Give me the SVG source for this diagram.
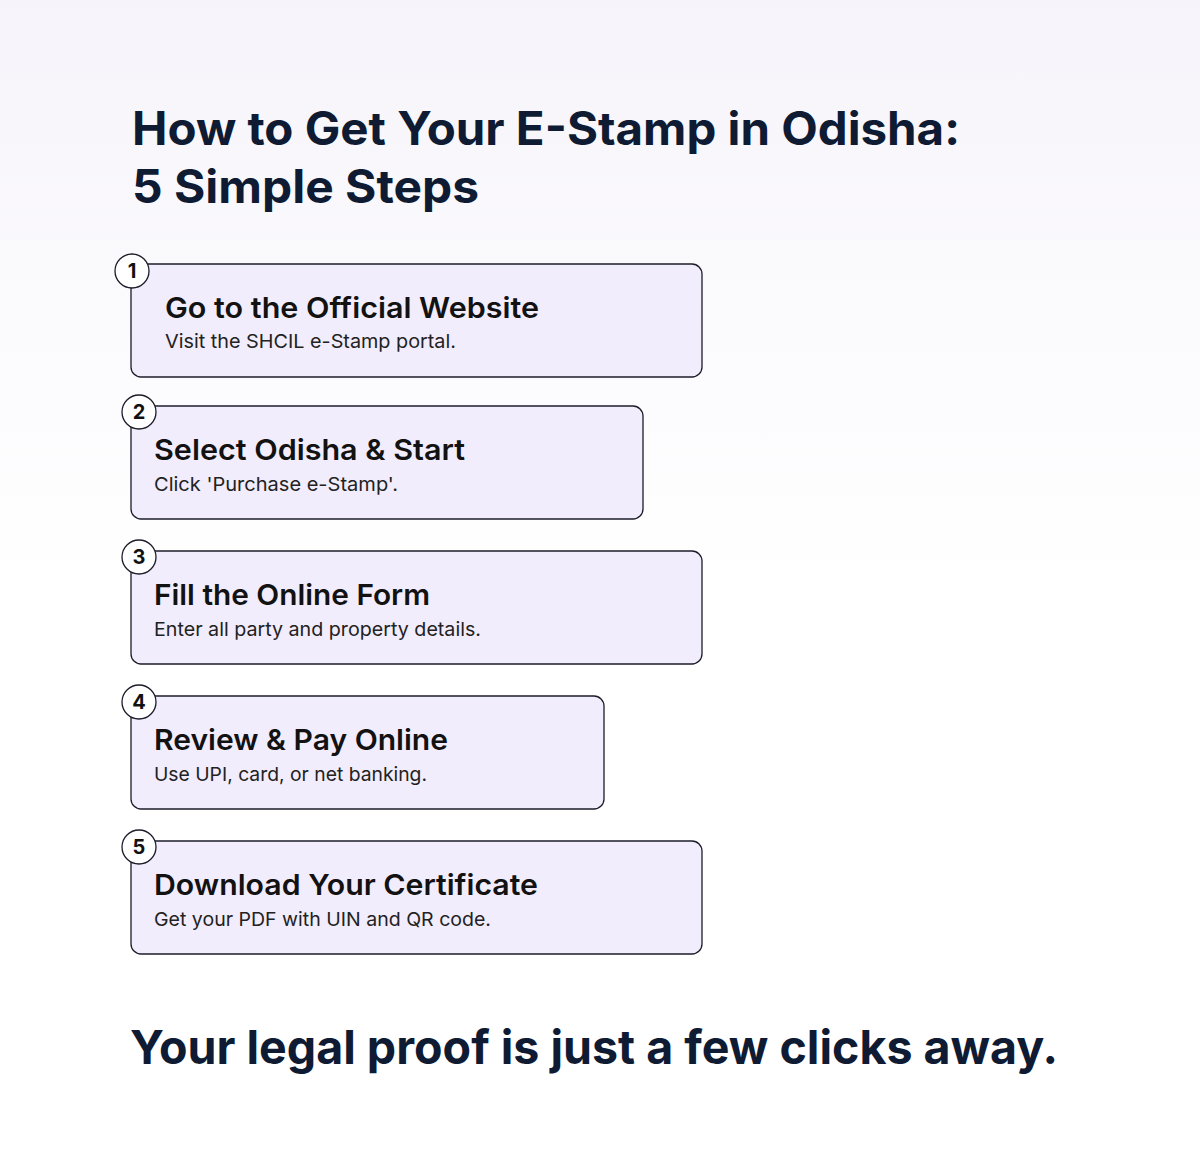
<svg xmlns="http://www.w3.org/2000/svg" width="1200" height="1172" viewBox="0 0 1200 1172">
<defs>
<linearGradient id="bg" x1="0" y1="0" x2="0" y2="1">
<stop offset="0" stop-color="#f6f4fa"/>
<stop offset="0.5" stop-color="#ffffff"/>
<stop offset="1" stop-color="#ffffff"/>
</linearGradient>
<style>
.box{fill:#f2edfc;stroke:#1c1c2a;stroke-width:1.3}
.num{fill:#ffffff;stroke:#1c1c2a;stroke-width:1.3}
.numt{font-family:Inter,"Noto Sans",sans-serif;font-weight:700;font-size:20px;fill:#111;text-anchor:middle}
.t{font-family:Inter,"Noto Sans",sans-serif;font-weight:600;font-size:29px;fill:#121212}
.s{font-family:Inter,"Noto Sans",sans-serif;font-weight:400;font-size:19px;fill:#222}
.h{font-family:Inter,"Noto Sans",sans-serif;font-weight:700;font-size:46px;fill:#0f1b33}
.f{font-family:Inter,"Noto Sans",sans-serif;font-weight:700;font-size:47px;fill:#0f1b33}
</style>
</defs>
<rect width="1200" height="1172" fill="url(#bg)"/>
<g id="title">
<text class="h" x="132" y="145" textLength="828" lengthAdjust="spacingAndGlyphs">How to Get Your E-Stamp in Odisha:</text>
<text class="h" x="132" y="203" textLength="347" lengthAdjust="spacingAndGlyphs">5 Simple Steps</text>
</g>
<g id="connectors"></g>
<g id="step1">
<rect class="box" x="131" y="264" width="571" height="113" rx="10"/>
<circle class="num" cx="132" cy="271" r="17"/>
<text class="numt" x="132" y="278">1</text>
<text class="t" x="165" y="318" textLength="374" lengthAdjust="spacingAndGlyphs">Go to the Official Website</text>
<text class="s" x="165" y="348" textLength="291" lengthAdjust="spacingAndGlyphs">Visit the SHCIL e-Stamp portal.</text>
</g>
<g id="step2">
<rect class="box" x="131" y="406" width="512" height="113" rx="10"/>
<circle class="num" cx="139" cy="412" r="17"/>
<text class="numt" x="139" y="419">2</text>
<text class="t" x="154" y="460" textLength="311" lengthAdjust="spacingAndGlyphs">Select Odisha &amp; Start</text>
<text class="s" x="154" y="491" textLength="244" lengthAdjust="spacingAndGlyphs">Click 'Purchase e-Stamp'.</text>
</g>
<g id="step3">
<rect class="box" x="131" y="551" width="571" height="113" rx="10"/>
<circle class="num" cx="139" cy="557" r="17"/>
<text class="numt" x="139" y="564">3</text>
<text class="t" x="154" y="605" textLength="276" lengthAdjust="spacingAndGlyphs">Fill the Online Form</text>
<text class="s" x="154" y="636" textLength="327" lengthAdjust="spacingAndGlyphs">Enter all party and property details.</text>
</g>
<g id="step4">
<rect class="box" x="131" y="696" width="473" height="113" rx="10"/>
<circle class="num" cx="139" cy="702" r="17"/>
<text class="numt" x="139" y="709">4</text>
<text class="t" x="154" y="750" textLength="294" lengthAdjust="spacingAndGlyphs">Review &amp; Pay Online</text>
<text class="s" x="154" y="781" textLength="273" lengthAdjust="spacingAndGlyphs">Use UPI, card, or net banking.</text>
</g>
<g id="step5">
<rect class="box" x="131" y="841" width="571" height="113" rx="10"/>
<circle class="num" cx="139" cy="847" r="17"/>
<text class="numt" x="139" y="854">5</text>
<text class="t" x="154" y="895" textLength="384" lengthAdjust="spacingAndGlyphs">Download Your Certificate</text>
<text class="s" x="154" y="926" textLength="337" lengthAdjust="spacingAndGlyphs">Get your PDF with UIN and QR code.</text>
</g>
<g id="footer">
<text class="f" x="130" y="1064" textLength="928" lengthAdjust="spacingAndGlyphs">Your legal proof is just a few clicks away.</text>
</g>
</svg>
